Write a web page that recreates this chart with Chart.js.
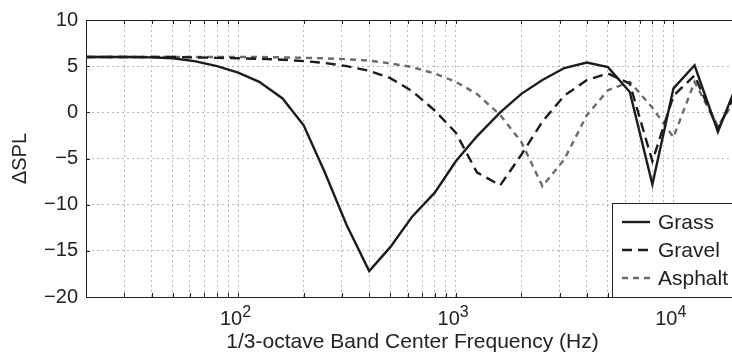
<!DOCTYPE html>
<html>
<head>
<meta charset="utf-8">
<script src="https://cdn.jsdelivr.net/npm/chart.js@4.4.1/dist/chart.umd.min.js"></script>
<style>
  html, body { margin: 0; padding: 0; background: #fff; overflow: hidden; }
  #wrap { width: 732px; height: 357px; overflow: hidden; }
</style>
</head>
<body>
<div id="wrap"><canvas id="chart" width="740" height="357"></canvas></div>
<script>
// 1/3-octave band centres (Hz)
const freqs = [20, 25, 31.5, 40, 50, 63, 80, 100, 125, 160, 200, 250, 315, 400, 500, 630,
  800, 1000, 1250, 1600, 2000, 2500, 3150, 4000, 5000, 6300, 8000, 10000, 12500, 16000, 20000];

const grass = [6.0, 6.0, 6.0, 5.95, 5.85, 5.55, 5.0, 4.3, 3.3, 1.5, -1.4, -6.5, -12.2, -17.2, -14.6, -11.3,
  -8.7, -5.3, -2.6, 0.0, 2.0, 3.5, 4.8, 5.4, 4.9, 2.2, -7.8, 2.6, 5.1, -2.1, 3.6];

const gravel = [6.0, 6.0, 6.0, 6.0, 6.0, 5.95, 5.9, 5.85, 5.8, 5.7, 5.55, 5.35, 5.0, 4.5, 3.7, 2.3,
  0.2, -2.2, -6.5, -7.9, -4.6, -1.0, 1.8, 3.5, 4.2, 3.1, -5.3, 1.8, 4.0, -1.8, 2.8];

const asphalt = [6.0, 6.0, 6.0, 6.0, 6.0, 6.0, 6.0, 6.0, 6.0, 5.95, 5.9, 5.85, 5.75, 5.6, 5.3, 4.9,
  4.2, 3.3, 2.0, -0.3, -3.2, -8.0, -5.1, -0.3, 2.4, 3.3, 0.5, -2.7, 3.3, -1.5, 2.0];

// grid positions on the log axis, labelled decades
const xGrid = [20, 30, 40, 50, 60, 70, 80, 90, 100, 200, 300, 400, 500, 600, 700, 800, 900,
  1000, 2000, 3000, 4000, 5000, 6000, 7000, 8000, 9000, 10000, 20000];
const xLabels = [100, 1000, 10000];

const FONT = "'Liberation Sans', Arial, sans-serif";

const toPts = arr => arr.map((v, i) => ({ x: freqs[i], y: v }));

/* frame, inward ticks, decade labels, legend box */
const decor = {
  id: "decor",
  afterDatasetsDraw(chart) {
    const c = chart.ctx;
    const a = chart.chartArea;
    const xs = chart.scales.x, ys = chart.scales.y;
    c.save();

    c.strokeStyle = "#222";
    c.lineWidth = 1;
    c.beginPath();
    xGrid.forEach(v => {
      const px = Math.round(xs.getPixelForValue(v)) + 0.5;
      c.moveTo(px, a.bottom); c.lineTo(px, a.bottom - 4);
      c.moveTo(px, a.top); c.lineTo(px, a.top + 4);
    });
    [-15, -10, -5, 0, 5].forEach(v => {
      const py = Math.round(ys.getPixelForValue(v)) + 0.5;
      c.moveTo(a.left, py); c.lineTo(a.left + 4, py);
    });
    c.stroke();
    c.strokeRect(a.left + 0.5, a.top + 0.5, a.right - a.left, a.bottom - a.top);

    // 10^n labels
    c.fillStyle = "#222";
    c.textBaseline = "alphabetic";
    xLabels.forEach(v => {
      const px = xs.getPixelForValue(v);
      const exp = String(Math.round(Math.log10(v)));
      c.font = "20px " + FONT;
      c.textAlign = "right";
      c.fillText("10", px + 4, a.bottom + 28);
      c.font = "16px " + FONT;
      c.textAlign = "left";
      c.fillText(exp, px + 4, a.bottom + 20);
    });

    // legend
    const lx = 612, ly = 203;
    c.fillStyle = "#fff";
    c.fillRect(lx, ly, 140, a.bottom - ly);
    c.strokeStyle = "#222";
    c.lineWidth = 1;
    c.strokeRect(lx + 0.5, ly + 0.5, 140, a.bottom - ly);
    const rows = [222, 250, 278];
    chart.data.datasets.forEach((ds, i) => {
      c.strokeStyle = ds.borderColor;
      c.lineWidth = ds.borderWidth;
      c.setLineDash(ds.borderDash || []);
      c.beginPath();
      c.moveTo(622, rows[i]);
      c.lineTo(650, rows[i]);
      c.stroke();
      c.setLineDash([]);
      c.fillStyle = "#222";
      c.font = "21px " + FONT;
      c.textAlign = "left";
      c.textBaseline = "middle";
      c.fillText(ds.label, 658, rows[i] + 1);
    });
    c.restore();
  }
};

const chart = new Chart(document.getElementById("chart").getContext("2d"), {
  type: "line",
  data: {
    datasets: [
      { label: "Grass", data: toPts(grass), borderColor: "#1c1c1c", borderWidth: 2.4, pointRadius: 0, tension: 0 },
      { label: "Gravel", data: toPts(gravel), borderColor: "#1c1c1c", borderWidth: 2.4, borderDash: [10, 6], pointRadius: 0, tension: 0 },
      { label: "Asphalt", data: toPts(asphalt), borderColor: "#6b6b6b", borderWidth: 2.4, borderDash: [6, 5], pointRadius: 0, tension: 0 }
    ]
  },
  options: {
    responsive: false,
    animation: false,
    devicePixelRatio: 1,
    layout: { padding: { left: 0, right: 1, top: 18, bottom: 0 } },
    plugins: { legend: { display: false }, tooltip: { enabled: false } },
    scales: {
      x: {
        type: "logarithmic",
        min: 20,
        max: 20000,
        afterBuildTicks: s => { s.ticks = xGrid.map(v => ({ value: v })); },
        afterFit: s => { s.height = 60; },
        ticks: { display: false },
        grid: { color: "#b8b8b8", lineWidth: 1, drawTicks: false },
        border: { color: "#222", width: 1, dash: [2, 3] },
        title: {
          display: true,
          text: "1/3-octave Band Center Frequency (Hz)",
          color: "#222",
          font: { family: FONT, size: 21 },
          padding: { top: 0, bottom: 2 }
        }
      },
      y: {
        min: -20,
        max: 10,
        afterFit: s => { s.width = 86; },
        ticks: {
          stepSize: 5,
          padding: 8,
          color: "#222",
          font: { family: FONT, size: 20 },
          callback: v => (v < 0 ? "\u2212" + Math.abs(v) : String(v))
        },
        grid: { color: "#b8b8b8", lineWidth: 1, drawTicks: false },
        border: { color: "#222", width: 1, dash: [2, 3] },
        title: {
          display: true,
          text: "ΔSPL",
          color: "#222",
          font: { family: FONT, size: 20 },
          padding: { top: 8, bottom: 0 }
        }
      }
    }
  },
  plugins: [decor]
});
</script>
</body>
</html>
